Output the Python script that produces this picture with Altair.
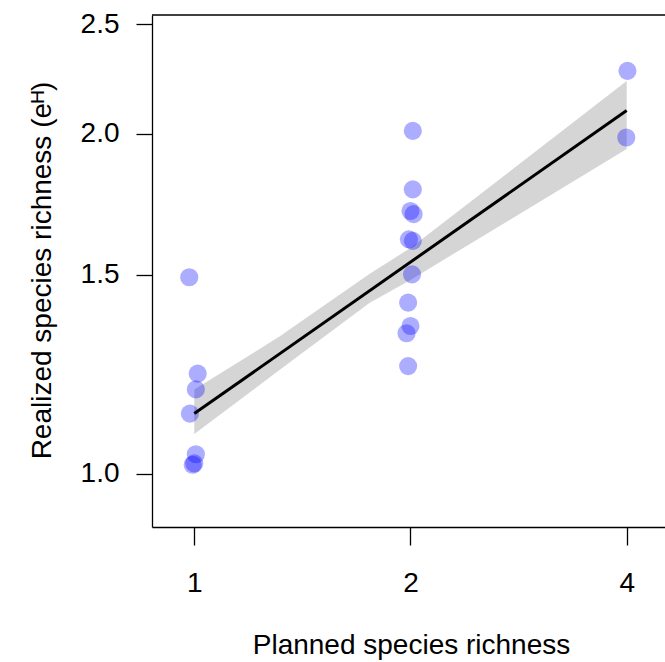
import altair as alt
import pandas as pd

# Observed points (planned richness, realized richness e^H)
pt_x = [0.984, 1.011, 1.005, 0.986, 1.005, 0.995, 1.0,
        2.015, 2.015, 2.0, 2.02, 1.99, 2.015, 2.01, 1.985, 2.0, 1.975, 1.985,
        4.01, 3.995]
pt_y = [1.492, 1.226, 1.187, 1.130, 1.040, 1.018, 1.021,
        2.011, 1.785, 1.708, 1.697, 1.612, 1.607, 1.501, 1.417, 1.351, 1.331, 1.245,
        2.273, 1.984]

# Fitted line
fit_x = [1, 4]
fit_y = [1.130, 2.096]

# Confidence band
band_x = [1, 1.314, 1.753, 2, 4]
band_lo = [1.084, 1.235, 1.416, 1.484, 1.938]
band_hi = [1.187, 1.322, 1.502, 1.584, 2.226]

x_ticks = [1, 2, 4]
y_ticks = [1.0, 1.5, 2.0, 2.5]

W, H = 513, 512
FONT = "Liberation Sans"

pts = pd.DataFrame({"x": pt_x, "y": pt_y})
fit = pd.DataFrame({"x": fit_x, "y": fit_y})
band = pd.DataFrame({"x": band_x, "lo": band_lo, "hi": band_hi})

xscale = alt.Scale(type="log", domain=[0.8732, 4.523], nice=False)
yscale = alt.Scale(type="log", domain=[0.8967, 2.547], nice=False)

xaxis = alt.Axis(values=x_ticks, format="d", title="Planned species richness",
                 grid=False, tickSize=18, labelPadding=24, labelBaseline="top",
                 labelFlush=False, labelOverlap=False,
                 titleX=259, titleY=126, titleBaseline="alphabetic", titleAlign="center")
yaxis = alt.Axis(values=y_ticks, format=".1f", title="Realized species richness (eᴴ)",
                 grid=False, tickSize=16, labelPadding=17, labelAlign="right",
                 labelBaseline="middle", labelFlush=False, labelOverlap=False,
                 titleX=-102, titleY=255, titleAngle=270,
                 titleBaseline="alphabetic", titleAlign="center")

band_layer = alt.Chart(band).mark_area(color="#d5d5d5", opacity=1).encode(
    x=alt.X("x:Q", scale=xscale, axis=xaxis),
    y=alt.Y("lo:Q", scale=yscale, axis=yaxis),
    y2="hi:Q",
)

pts_layer = alt.Chart(pts).mark_circle(size=330, color="#0000ff", opacity=0.32).encode(
    x=alt.X("x:Q", scale=xscale),
    y=alt.Y("y:Q", scale=yscale),
)

fit_layer = alt.Chart(fit).mark_line(color="black", strokeWidth=3).encode(
    x=alt.X("x:Q", scale=xscale),
    y=alt.Y("y:Q", scale=yscale),
)

frame_top = alt.Chart(pd.DataFrame({"a": [0]})).mark_rule(color="black", strokeWidth=1.3).encode(
    x=alt.value(0), x2=alt.value(W), y=alt.value(0)
)

chart = alt.layer(band_layer, pts_layer, fit_layer, frame_top).properties(
    width=W, height=H,
    autosize=alt.AutoSizeParams(type="none"),
    padding={"left": 152, "top": 15, "right": 0, "bottom": 135},
).configure_view(stroke=None).configure_axis(
    domainColor="black", domainWidth=1.3, tickColor="black", tickWidth=1.3,
    labelFont=FONT, labelFontSize=28, labelColor="black",
    titleFont=FONT, titleFontSize=28, titleFontWeight="normal", titleColor="black",
)

chart.save("out.html", embed_options={"renderer": "svg", "actions": False})
